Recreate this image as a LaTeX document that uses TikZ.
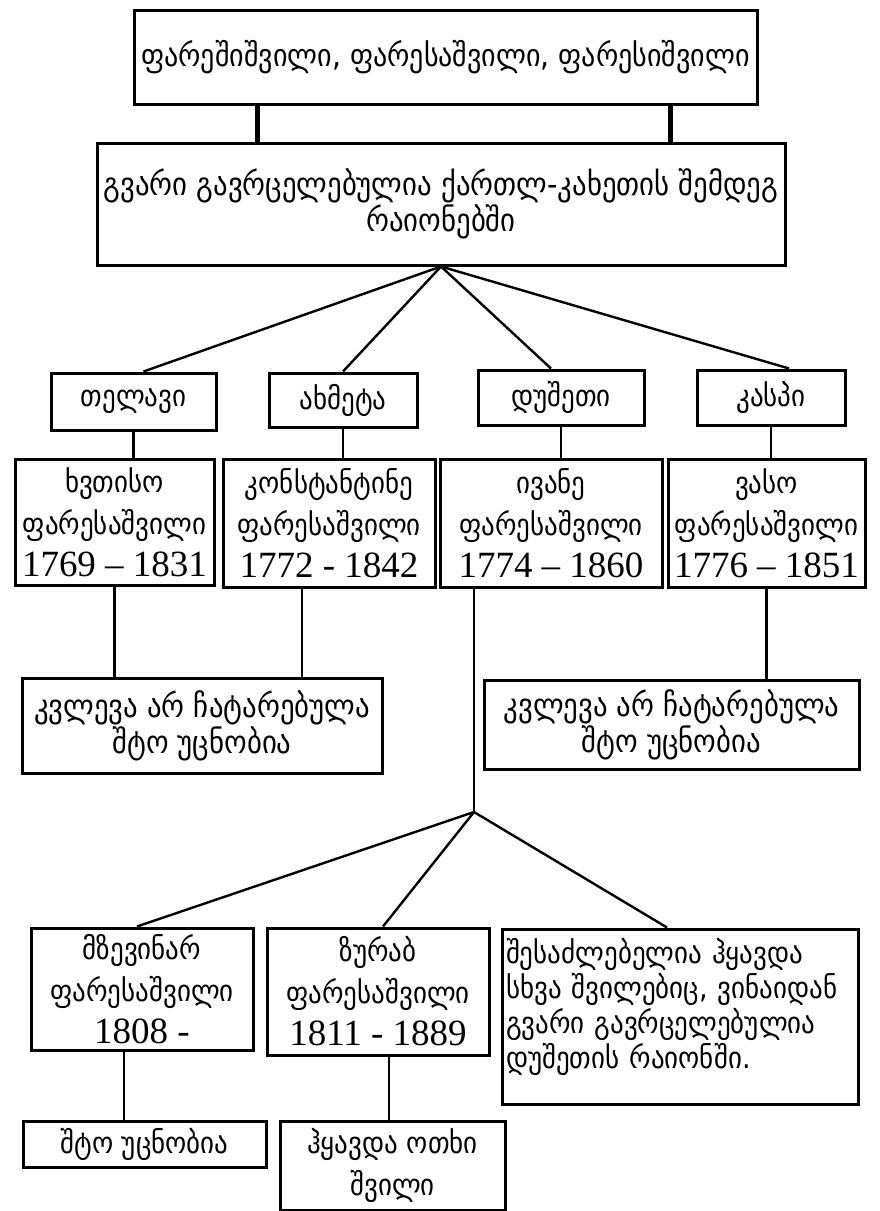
\documentclass[tikz,border=0pt]{standalone}
\usepackage{fontspec}
\setmainfont{DejaVu Sans Condensed}
\newfontfamily\numfont{Liberation Serif}
\newcommand\years[1]{{\numfont\fontsize{18.5}{21}\selectfont #1}}
\usetikzlibrary{calc}

\begin{document}
\begin{tikzpicture}[x=0.5pt,y=-0.5pt,
  box/.style={draw, line width=1.5pt, inner sep=0pt, align=center, font=\fontsize{15}{21}\selectfont},
  wide/.style={font=\fontsize{16}{18}\selectfont},
  link/.style={line width=1.2pt},
  bar/.style={line width=2.6pt}]
\useasboundingbox (0,0) rectangle (879,1211);
\node[box, minimum width=311.5pt, minimum height=47pt, font=\fontsize{15.6}{18}\selectfont] (top) at (445.5,57) {ფარეშიშვილი, ფარესაშვილი, ფარესიშვილი};
\node[box, wide, minimum width=344pt, minimum height=61pt] (gvari) at (441,204) {გვარი გავრცელებულია ქართლ-კახეთის შემდეგ\\რაიონებში};
\node[box, minimum width=82.5pt, minimum height=28.5pt] (telavi) at (133.5,401.5) {თელავი};
\node[box, minimum width=74pt, minimum height=27pt] (akhmeta) at (343,400) {ახმეტა};
\node[box, minimum width=83pt, minimum height=27.5pt] (dusheti) at (561,397.5) {დუშეთი};
\node[box, minimum width=74pt, minimum height=27.5pt] (kaspi) at (771,397.5) {კასპი};
\node[box, minimum width=99.5pt, minimum height=63pt] (khvtiso) at (114.5,522) {ხვთისო\\ფარესაშვილი\\\years{1769 – 1831}};
\node[box, minimum width=106pt, minimum height=64pt] (konst) at (329,523) {კონსტანტინე\\ფარესაშვილი\\\years{1772 - 1842}};
\node[box, minimum width=111pt, minimum height=64pt] (ivane) at (551,523) {ივანე\\ფარესაშვილი\\\years{1774 – 1860}};
\node[box, minimum width=98.5pt, minimum height=64pt] (vaso) at (766.5,523) {ვასო\\ფარესაშვილი\\\years{1776 – 1851}};
\node[box, wide, minimum width=180pt, minimum height=47.5pt] (kvlevaA) at (202,725.5) {კვლევა არ ჩატარებულა\\შტო უცნობია};
\node[box, wide, minimum width=187.5pt, minimum height=44.5pt] (kvlevaB) at (671.5,724.5) {კვლევა არ ჩატარებულა\\შტო უცნობია};
\node[box, minimum width=111pt, minimum height=61pt] (mzevinar) at (142,989) {მზევინარ\\ფარესაშვილი\\\years{1808 -}};
\node[box, minimum width=111pt, minimum height=63.5pt] (zurab) at (378,991.5) {ზურაბ\\ფარესაშვილი\\\years{1811 - 1889}};
\node[box, minimum width=178pt, minimum height=87.5pt, text width=174pt, inner xsep=2pt, align=left, font=\fontsize{15}{17.5}\selectfont] (shesadz) at (680,1016.5) {შესაძლებელია ჰყავდა\\სხვა შვილებიც, ვინაიდან\\გვარი გავრცელებულია\\დუშეთის რაიონში.\\[-4pt]\mbox{}};
\node[box, minimum width=121.5pt, minimum height=23pt] (shto) at (144.5,1144) {შტო უცნობია};
\node[box, minimum width=112.5pt, minimum height=44.5pt] (hkavda) at (392.5,1165.5) {ჰყავდა ოთხი\\შვილი};

\draw[bar] ($(top.south west)!.2!(top.south east)$) coordinate (b1) -- (b1 |- gvari.north);
\draw[bar] ($(top.south west)!.86!(top.south east)$) coordinate (b2) -- (b2 |- gvari.north);
\foreach \n/\s in {telavi/5pt, akhmeta/0pt, dusheti/-5pt, kaspi/9pt}
  \draw[link] (gvari.south) -- ([xshift=\s]\n.north);
\foreach \a/\b in {telavi/khvtiso, akhmeta/konst, dusheti/ivane, kaspi/vaso}
  \draw[link] (\a.south) -- (\a.south |- \b.north);
\draw[link] (khvtiso.south) -- (khvtiso.south |- kvlevaA.north);
\draw[link] ([xshift=-13.5pt]konst.south) coordinate (k) -- (k |- kvlevaA.north);
\draw[link] (vaso.south) -- (vaso.south |- kvlevaB.north);
\coordinate (fork) at (474,812);
\draw[link] (fork |- ivane.south) -- (fork);
\foreach \n/\s in {mzevinar/-2.5pt, zurab/2.5pt, shesadz/-6.5pt}
  \draw[link] (fork) -- ([xshift=\s]\n.north);
\draw[link] ([xshift=-9pt]mzevinar.south) coordinate (m) -- (m |- shto.north);
\draw[link] ([xshift=5.5pt]zurab.south) coordinate (z) -- (z |- hkavda.north);
\end{tikzpicture}
\end{document}
